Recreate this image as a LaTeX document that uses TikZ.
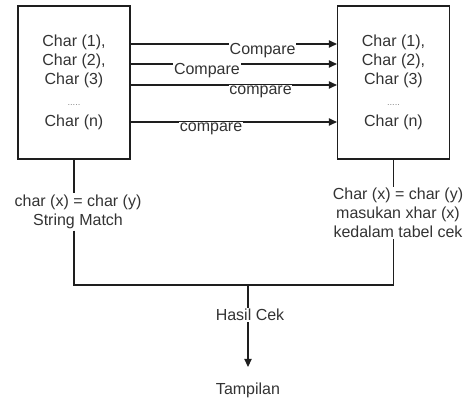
\documentclass[tikz,border=0pt]{standalone}
\usepackage{fontspec}
\setmainfont{Liberation Sans}
\usetikzlibrary{positioning, arrows.meta, calc}
\definecolor{ink}{HTML}{333333}
\definecolor{wire}{HTML}{1E1E1E}
\definecolor{dots}{HTML}{8A8A8A}
\tikzset{
  every node/.style = {font=\fontsize{12}{14.25}\selectfont, text=ink},
  chbox/.style   = {draw=wire, line width=0.9pt, fill=white, align=center,
                    minimum width=84pt, minimum height=114.75pt, inner sep=0pt},
  chtxt/.style   = {align=center, inner sep=1pt},
  chlab/.style   = {fill=white, inner sep=0.5pt, yshift=-5pt},
  chgo/.style    = {-{Triangle[length=6pt,width=5.5pt]}, draw=wire, line width=0.8pt},
  chwire/.style  = {draw=wire, line width=0.8pt},
}
\newcommand{\chlist}{Char (1),\\Char (2),\\Char (3)\\[1pt]{\color{dots}\scriptsize .....}\\[1.5pt]Char (n)}

\begin{document}
\begin{tikzpicture}[x=0.75pt, y=-0.75pt]
\useasboundingbox (0,0) rectangle (466,400);

\node[chbox] (lbox) at (74,82.5)   {\chlist};
\node[chbox] (rbox) at (393.5,82.5) {\chlist};

\draw[chgo] (lbox.east |- 0,44)  -- node[chlab, pos=0.64]{Compare} (rbox.west |- 0,44);
\draw[chgo] (lbox.east |- 0,64)  -- node[chlab, pos=0.37]{Compare} (rbox.west |- 0,64);
\draw[chgo] (lbox.east |- 0,85)  -- node[chlab, pos=0.63]{compare} (rbox.west |- 0,85);
\draw[chgo] (lbox.east |- 0,122) -- node[chlab, pos=0.39]{compare} (rbox.west |- 0,122);

\node[chtxt] (lmatch) at (78,212)  {char (x) = char (y)\\String Match};
\node[chtxt] (rmatch) at (398,213) {Char (x) = char (y)\\masukan xhar (x)\\kedalam tabel cek};

\coordinate (jl)   at (74,285);
\coordinate (jr)   at (393.5,285);
\coordinate (join) at (248,285);

\draw[chwire] (lbox.south) -- (lbox.south |- lmatch.north);
\draw[chwire] (rbox.south) -- (rbox.south |- rmatch.north);
\draw[chwire] (lbox.south |- lmatch.south) -- (jl) -- (jr) -- (rbox.south |- rmatch.south);

\node[chtxt] (hasil)  at (250,315) {Hasil Cek};
\node[chtxt] (tampil) at (248,390) {Tampilan};

\draw[chwire] (join) -- (join |- hasil.north);
\draw[chgo]   (join |- hasil.south) -- ($(join |- tampil.north)+(0,-14)$);
\end{tikzpicture}
\end{document}
